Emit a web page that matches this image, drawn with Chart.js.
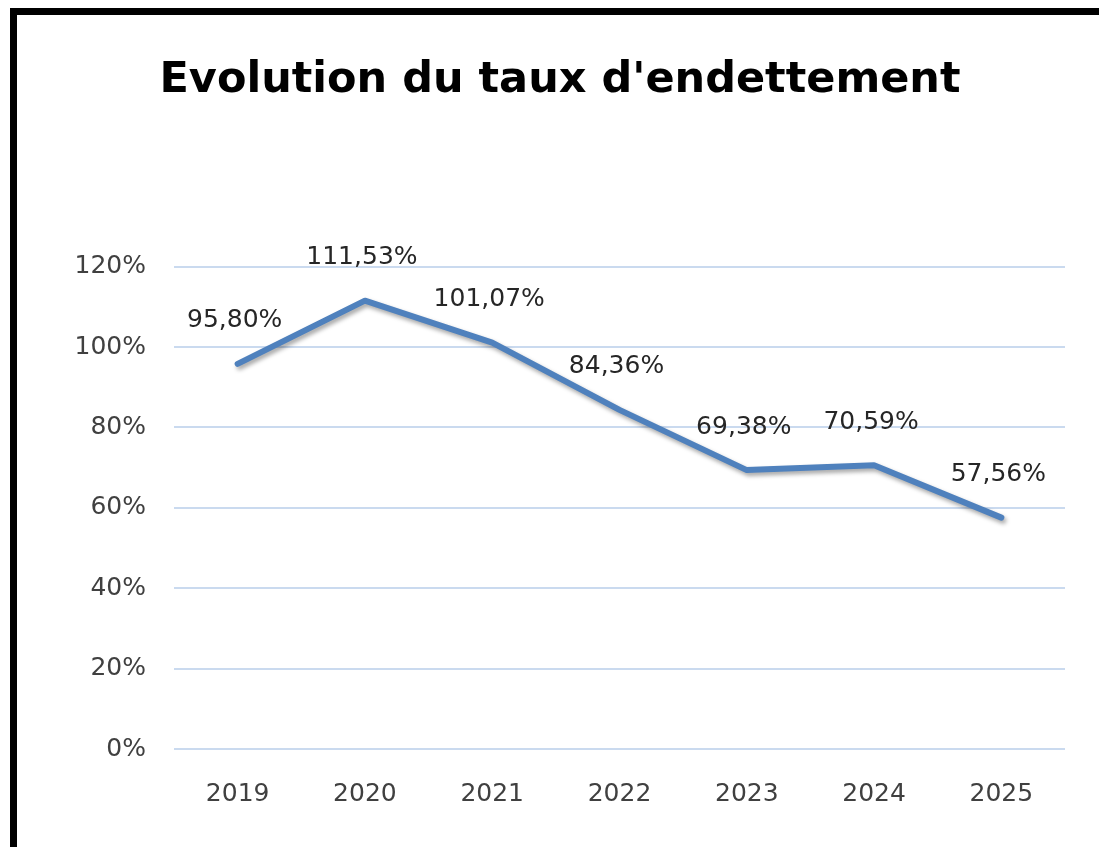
<!DOCTYPE html>
<html>
<head>
<meta charset="utf-8">
<script src="https://cdn.jsdelivr.net/npm/chart.js@4/dist/chart.umd.min.js"></script>
<style>
  html, body { margin: 0; padding: 0; background: #fff; width: 1099px; height: 847px; overflow: hidden; }
  #frame { position: absolute; left: 10px; top: 8px; width: 1089px; height: 839px;
           border-left: 7px solid #000; border-top: 7px solid #000; box-sizing: border-box; }
  #c { position: absolute; left: 17px; top: 15px; }
</style>
</head>
<body>
<div id="frame"></div>
<canvas id="c" width="1082" height="832"></canvas>
<script>
const titleText = "Evolution du taux d'endettement";
const years = ["2019", "2020", "2021", "2022", "2023", "2024", "2025"];
const debtRatio = [95.80, 111.53, 101.07, 84.36, 69.38, 70.59, 57.56];
const yTicks = [0, 20, 40, 60, 80, 100, 120];

const fmt = v => v.toFixed(2).replace('.', ',') + '%';

const labelPlugin = {
  id: 'shadowAndLabels',
  beforeDatasetsDraw(chart) {
    const ctx = chart.ctx;
    ctx.save();
    ctx.shadowColor = 'rgba(0,0,0,0.35)';
    ctx.shadowBlur = 4;
    ctx.shadowOffsetX = 2;
    ctx.shadowOffsetY = 3;
  },
  afterDatasetsDraw(chart) {
    const ctx = chart.ctx;
    ctx.restore();
    const meta = chart.getDatasetMeta(0);
    ctx.save();
    ctx.font = '25px "DejaVu Sans"';
    ctx.fillStyle = '#262626';
    ctx.textAlign = 'center';
    ctx.textBaseline = 'middle';
    meta.data.forEach((pt, i) => {
      ctx.fillText(fmt(debtRatio[i]), pt.x - 3, pt.y - 43);
    });
    ctx.restore();
  }
};

new Chart(document.getElementById('c'), {
  type: 'line',
  data: {
    labels: years,
    datasets: [{
      data: debtRatio,
      borderColor: '#4F81BD',
      borderWidth: 6,
      pointRadius: 0,
      tension: 0,
      borderCapStyle: 'round',
      borderJoinStyle: 'round',
      fill: false
    }]
  },
  options: {
    responsive: false,
    animation: false,
    devicePixelRatio: 1,
    layout: { padding: { left: 38, right: 34, top: 0, bottom: 8 } },
    plugins: {
      legend: { display: false },
      tooltip: { enabled: false },
      title: {
        display: true,
        text: titleText,
        color: '#000',
        font: { family: '"DejaVu Sans"', size: 43, weight: 'bold' },
        padding: { top: 40, bottom: 160 }
      }
    },
    scales: {
      x: {
        offset: true,
        grid: { display: false, drawTicks: false },
        border: { display: false },
        ticks: { color: '#404040', font: { family: '"DejaVu Sans"', size: 25 }, padding: 30 }
      },
      y: {
        min: 0,
        max: 120,
        afterBuildTicks: s => { s.ticks = yTicks.map(v => ({ value: v })); },
        afterFit: s => { s.width = 119; },
        grid: { color: '#CADAEF', lineWidth: 2, drawTicks: false },
        border: { display: false },
        ticks: {
          color: '#404040',
          font: { family: '"DejaVu Sans"', size: 25 },
          padding: 28,
          callback: v => v + '%'
        }
      }
    }
  },
  plugins: [labelPlugin]
});
</script>
</body>
</html>
